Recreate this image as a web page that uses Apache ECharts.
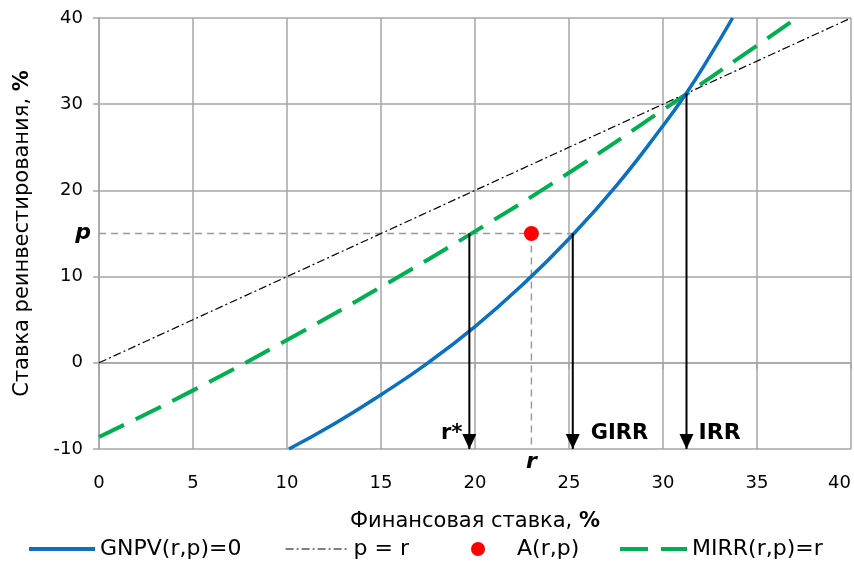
<!DOCTYPE html>
<html><head><meta charset="utf-8">
<script src="https://cdn.jsdelivr.net/npm/echarts@6/dist/echarts.min.js"></script>
<style>html,body{margin:0;padding:0;background:#fff}#c{width:854px;height:572px}</style>
</head><body><div id="c"></div>
<script>
// ---- data ----
const gnpvR = [10.1, 12.5, 15, 17.5, 20, 22.5, 25, 27.5, 30, 31.25, 32.5, 33.7];
const gnpvP = [-10, -7.1, -3.7, 0, 4.2, 9.0, 14.4, 20.5, 27.5, 31.3, 35.6, 40];
const mirrR = [0, 5, 10, 15, 20, 25, 30, 35, 37.1];
const mirrP = [-8.6, -3.2, 2.65, 8.8, 15.25, 22.05, 29.35, 36.8, 40];
const diagR = [0, 40];
const diagP = [0, 40];
const pointA = [23, 15];
const arrowNames = ['r*', 'GIRR', 'IRR'];
const arrowR = [19.7, 25.2, 31.25];
const arrowTop = [15, 15, 31.25];
const yMin = -10, yMax = 40, yStep = 10;
const xMin = 0, xMax = 40, xStep = 5;
const legendNames = ['GNPV(r,p)=0', 'p = r', 'A(r,p)', 'MIRR(r,p)=r'];

const FF = '"DejaVu Sans", Verdana, sans-serif';
const zip = (a, b) => a.map((v, i) => [v, b[i]]);

const chart = echarts.init(document.getElementById('c'));

const arrowSeries = arrowR.map((x, i) => ({
  type: 'line', name: 'arrow' + i, silent: true, z: 5,
  symbol: 'none', showSymbol: true,
  lineStyle: { color: '#000', width: 2 },
  itemStyle: { color: '#000' },
  data: [
    { value: [x, arrowTop[i]], symbol: 'none' },
    { value: [x, yMin], symbol: 'triangle', symbolSize: [14, 15], symbolRotate: 180, symbolOffset: [0, -7.5] }
  ]
}));

const labelAnchors = [
  { text: arrowNames[0], value: [arrowR[0], -8.15], position: 'left', distance: 7, style: { fontWeight: 'bold', fontSize: 21 } },
  { text: arrowNames[1], value: [arrowR[1], -8.15], position: 'right', distance: 18, style: { fontWeight: 'bold', fontSize: 21 } },
  { text: arrowNames[2], value: [arrowR[2], -8.15], position: 'right', distance: 12, style: { fontWeight: 'bold', fontSize: 22 } },
  { text: 'p', value: [xMin, pointA[1]], position: 'left', distance: 8, style: { fontWeight: 'bold', fontStyle: 'italic', fontSize: 22 } },
  { text: 'r', value: [pointA[0], yMin], position: 'bottom', distance: 2, style: { fontWeight: 'bold', fontStyle: 'italic', fontSize: 22 } }
];

const noSym = { color: 'rgba(0,0,0,0)', borderColor: 'rgba(0,0,0,0)', borderWidth: 0 };
const legendCommon = { top: 538, padding: 0, itemGap: 0, selectedMode: false,
  textStyle: { fontSize: 22, color: '#000', fontFamily: FF } };

chart.setOption({
  animation: false,
  backgroundColor: '#fff',
  grid: { left: 99, right: 3, top: 18, bottom: 123, containLabel: false, outerBoundsMode: 'none' },
  legend: [
    Object.assign({ data: [legendNames[0]], left: 27, itemWidth: 66, itemHeight: 14, itemStyle: noSym, lineStyle: { width: 4 } }, legendCommon),
    Object.assign({ data: [legendNames[1]], left: 285, itemWidth: 63, itemHeight: 14, itemStyle: noSym, lineStyle: { width: 1.2 } }, legendCommon),
    Object.assign({ data: [{ name: legendNames[2], icon: 'circle' }], left: 471, itemWidth: 68, itemHeight: 14 }, legendCommon),
    Object.assign({ data: [legendNames[3]], left: 618, itemWidth: 67, itemHeight: 14, itemStyle: noSym, lineStyle: { width: 4 } }, legendCommon)
  ],
  xAxis: {
    type: 'value', min: xMin, max: xMax, interval: xStep,
    name: 'Финансовая ставка, {b|%}', nameLocation: 'middle', nameGap: 62,
    nameTextStyle: { fontSize: 21, color: '#000', fontFamily: FF, rich: { b: { fontSize: 21, fontWeight: 'bold', fontFamily: FF, color: '#000' } } },
    axisLine: { show: true, lineStyle: { color: '#A6A6A6', width: 1.5 } },
    axisTick: { show: true, length: 6, lineStyle: { color: '#A6A6A6', width: 1.5 } },
    axisLabel: { margin: 25, fontSize: 18, color: '#000', fontFamily: FF, alignMaxLabel: 'right' },
    splitLine: { show: true, lineStyle: { color: '#A6A6A6', width: 1.5 } }
  },
  yAxis: {
    type: 'value', min: yMin, max: yMax, interval: yStep,
    name: 'Ставка реинвестирования, {b|%}', nameLocation: 'middle', nameGap: 66,
    nameTextStyle: { fontSize: 21, color: '#000', fontFamily: FF, rich: { b: { fontSize: 21, fontWeight: 'bold', fontFamily: FF, color: '#000' } } },
    axisLine: { show: true, lineStyle: { color: '#A6A6A6', width: 1.5 } },
    axisTick: { show: true, length: 6, lineStyle: { color: '#A6A6A6', width: 1.5 } },
    axisLabel: { margin: 16, fontSize: 18, color: '#000', fontFamily: FF },
    splitLine: { show: true, lineStyle: { color: '#A6A6A6', width: 1.5 } }
  },
  series: [
    { type: 'line', name: 'guideH', silent: true, symbol: 'none', z: 2,
      lineStyle: { color: '#9A9A9A', width: 1.5, type: [7, 5] },
      data: [[xMin, pointA[1]], [arrowR[1], pointA[1]]] },
    { type: 'line', name: 'guideV', silent: true, symbol: 'none', z: 2,
      lineStyle: { color: '#9A9A9A', width: 1.5, type: [7, 5] },
      data: [[pointA[0], pointA[1]], [pointA[0], yMin]] },
    { type: 'line', name: legendNames[1], symbol: 'none', z: 3,
      lineStyle: { color: '#000', width: 1.2, type: [8, 3, 2, 3] },
      itemStyle: { color: '#000' },
      data: zip(diagR, diagP) },
    { type: 'line', name: legendNames[3], symbol: 'none', z: 3, smooth: 0.5,
      lineStyle: { color: '#00B050', width: 4, type: [28, 13] },
      itemStyle: { color: '#00B050' },
      data: zip(mirrR, mirrP) },
    { type: 'line', name: legendNames[0], symbol: 'none', z: 4, smooth: 0.5,
      lineStyle: { color: '#0A70C0', width: 3.5 },
      itemStyle: { color: '#0A70C0' },
      data: zip(gnpvR, gnpvP) },
    ...arrowSeries,
    { type: 'scatter', name: legendNames[2], symbol: 'circle', symbolSize: 15, z: 6,
      itemStyle: { color: '#FF0000', opacity: 1 },
      data: [pointA] },
    { type: 'scatter', name: 'labels', silent: true, symbolSize: 0, z: 7,
      itemStyle: { opacity: 1, color: '#000' },
      data: labelAnchors.map(a => ({
        value: a.value,
        label: Object.assign({ show: true, formatter: a.text, position: a.position, distance: a.distance,
          color: '#000', opacity: 1, fontFamily: FF }, a.style)
      }))
    }
  ]
});
</script></body></html>
